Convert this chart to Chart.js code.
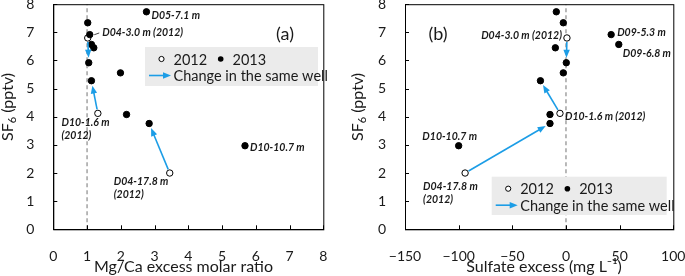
<!DOCTYPE html>
<html>
<head>
<meta charset="utf-8">
<script src="https://cdn.jsdelivr.net/npm/chart.js@4.4.1/dist/chart.umd.min.js"></script>
<style>
  html, body { margin: 0; padding: 0; background: #fff; }
  #wrap { position: relative; width: 685px; height: 276px; }
  canvas { position: absolute; top: 0; }
</style>
</head>
<body>
<div id="wrap">
  <canvas id="chartA" width="340" height="276" style="left:0"></canvas>
  <canvas id="chartB" width="345" height="276" style="left:340px"></canvas>
</div>
<script>
// SF6 (pptv) per well, 2013 survey and 2012 survey
const sf6_2013 = [7.73, 7.34, 6.92, 6.57, 6.45, 5.92, 5.56, 5.28, 4.08, 3.76, 2.97];
const mgca_2013 = [2.76, 1.02, 1.08, 1.13, 1.20, 1.05, 1.99, 1.13, 2.17, 2.84, 5.68];
const sulfate_2013 = [-9.0, -2.5, 42.1, 49.2, -9.9, 0.3, -2.5, -23.8, -14.9, -14.9, -100];

const sf6_2012 = [6.80, 4.12, 2.00];
const mgca_2012 = [1.02, 1.32, 3.45];
const sulfate_2012 = [0.9, -5.6, -94];

// same well resampled: 2012 index -> 2013 index
const arrowFrom = [0, 1, 2];
const arrowTo = [5, 7, 9];

const sf6Ticks = [0, 1, 2, 3, 4, 5, 6, 7, 8];
const mgcaTicks = [0, 1, 2, 3, 4, 5, 6, 7, 8];
const sulfateTicks = [-150, -100, -50, 0, 50, 100];

const legendLabels = ["2012", "2013", "Change in the same well"];

const FONT = "Lato, 'Open Sans', sans-serif";
const TEXT = "#1a1a1a";
const BLUE = "#1c9de6";

function drawArrow(ctx, x1, y1, x2, y2, cut1, cut2) {
  const dx = x2 - x1, dy = y2 - y1;
  const len = Math.hypot(dx, dy);
  const ux = dx / len, uy = dy / len;
  const sx = x1 + ux * cut1, sy = y1 + uy * cut1;
  const ex = x2 - ux * cut2, ey = y2 - uy * cut2;
  const head = 8, half = 3.2;
  ctx.save();
  ctx.strokeStyle = BLUE;
  ctx.fillStyle = BLUE;
  ctx.lineWidth = 1.6;
  ctx.beginPath();
  ctx.moveTo(sx, sy);
  ctx.lineTo(ex - ux * head * 0.8, ey - uy * head * 0.8);
  ctx.stroke();
  ctx.beginPath();
  ctx.moveTo(ex, ey);
  ctx.lineTo(ex - ux * head - uy * half, ey - uy * head + ux * half);
  ctx.lineTo(ex - ux * head + uy * half, ey - uy * head - ux * half);
  ctx.closePath();
  ctx.fill();
  ctx.restore();
}

// y title with a real subscript, drawn rotated
function drawYTitle(ctx, cx, cy) {
  const big = "16px " + FONT, small = "11px " + FONT;
  ctx.save();
  ctx.translate(cx, cy);
  ctx.rotate(-Math.PI / 2);
  ctx.fillStyle = TEXT;
  ctx.textBaseline = "middle";
  ctx.textAlign = "left";
  ctx.font = big;
  const w1 = ctx.measureText("SF").width;
  const w3 = ctx.measureText(" (pptv)").width;
  ctx.font = small;
  const w2 = ctx.measureText("6").width;
  let x0 = -(w1 + w2 + w3) / 2;
  ctx.font = big;
  ctx.fillText("SF", x0, 0);
  ctx.font = small;
  ctx.fillText("6", x0 + w1, 4);
  ctx.font = big;
  ctx.fillText(" (pptv)", x0 + w1 + w2, 0);
  ctx.restore();
}

// frame, inward ticks, arrows, well names, legend, titles, panel letter
const decorations = {
  id: "decorations",
  afterDatasetsDraw(chart, args, opts) {
    const { ctx, chartArea: { left, right, top, bottom }, scales: { x, y } } = chart;
    ctx.save();
    ctx.strokeStyle = "#000";
    ctx.lineWidth = 1;
    ctx.strokeRect(left + 0.5, top + 0.5, right - left, bottom - top);
    ctx.beginPath();
    opts.yTicks.forEach(v => {
      const py = Math.round(y.getPixelForValue(v)) + 0.5;
      ctx.moveTo(left, py); ctx.lineTo(left + 4, py);
    });
    opts.xTicks.forEach(v => {
      const px = Math.round(x.getPixelForValue(v)) + 0.5;
      ctx.moveTo(px, bottom); ctx.lineTo(px, bottom - 4);
    });
    ctx.stroke();

    // arrows 2012 -> 2013
    arrowFrom.forEach((a, k) => {
      const b = arrowTo[k];
      drawArrow(ctx,
        x.getPixelForValue(opts.x2012[a]), y.getPixelForValue(sf6_2012[a]),
        x.getPixelForValue(opts.x2013[b]), y.getPixelForValue(sf6_2013[b]), 4, 5);
    });

    // well names
    ctx.fillStyle = TEXT;
    ctx.font = "italic bold 10.5px " + FONT;
    ctx.textBaseline = "middle";
    opts.notes.forEach(n => {
      const xs = n.year === 2012 ? opts.x2012 : opts.x2013;
      const ys = n.year === 2012 ? sf6_2012 : sf6_2013;
      const px = x.getPixelForValue(xs[n.i]) + n.dx;
      const py = y.getPixelForValue(ys[n.i]) + n.dy;
      ctx.textAlign = n.align || "left";
      [].concat(n.text).forEach((t, j) => ctx.fillText(t, px, py + j * 12.5));
      if (n.leader) {
        ctx.strokeStyle = TEXT;
        ctx.lineWidth = 0.8;
        ctx.beginPath();
        ctx.moveTo(px - 8, py + 1.8);
        ctx.lineTo(px - 3, py);
        ctx.stroke();
      }
    });

    // legend box
    const L = opts.legend;
    ctx.fillStyle = "#ebebeb";
    ctx.fillRect(L.x, L.y, L.w, L.h);
    ctx.font = "14.5px " + FONT;
    ctx.textAlign = "left";
    ctx.fillStyle = TEXT;
    const r1 = L.y + 12, r2 = L.y + 28.5;
    ctx.beginPath();
    ctx.arc(L.x + 16.5, r1, 2.6, 0, Math.PI * 2);
    ctx.fillStyle = "#fff"; ctx.fill();
    ctx.strokeStyle = "#000"; ctx.lineWidth = 1; ctx.stroke();
    ctx.fillStyle = TEXT;
    ctx.fillText(legendLabels[0], L.x + 28.5, r1 + 1);
    ctx.beginPath();
    ctx.arc(L.x + 75.7, r1, 2.8, 0, Math.PI * 2);
    ctx.fillStyle = "#000"; ctx.fill();
    ctx.fillStyle = TEXT;
    ctx.fillText(legendLabels[1], L.x + 87.5, r1 + 1);
    drawArrow(ctx, L.x + 4, r2, L.x + 26, r2, 0, 0);
    ctx.fillStyle = TEXT;
    ctx.fillText(legendLabels[2], L.x + 28.5, r2 + 1);

    // axis titles
    ctx.font = "16px " + FONT;
    ctx.textAlign = "center";
    ctx.textBaseline = "middle";
    ctx.fillText(opts.xTitle.text, opts.xTitle.x, opts.xTitle.y);
    drawYTitle(ctx, opts.yTitle.x, opts.yTitle.y);

    // panel letter
    ctx.fillStyle = TEXT;
    ctx.font = "18px " + FONT;
    ctx.textAlign = "center";
    ctx.textBaseline = "alphabetic";
    ctx.fillText(opts.letter.text, opts.letter.x, opts.letter.y + 6);
    ctx.restore();
  }
};

const fixTicks = vals => scale => { scale.ticks = vals.map(v => ({ value: v })); };
const minus = v => String(v).replace("-", "\u2212");

function makeChart(id, cfg) {
  const xs13 = cfg.x2013, xs12 = cfg.x2012;
  return new Chart(document.getElementById(id), {
    type: "scatter",
    data: {
      datasets: [
        {
          label: "2013",
          data: xs13.map((v, i) => ({ x: v, y: sf6_2013[i] })),
          pointRadius: 3.2, pointHoverRadius: 3.2,
          backgroundColor: "#000", borderColor: "#000", borderWidth: 1
        },
        {
          label: "2012",
          data: xs12.map((v, i) => ({ x: v, y: sf6_2012[i] })),
          pointRadius: 3.2, pointHoverRadius: 3.2,
          backgroundColor: "#fff", borderColor: "#000", borderWidth: 1
        },
        {
          type: "line",
          label: "reference",
          data: [{ x: cfg.refX, y: sf6Ticks[0] }, { x: cfg.refX, y: sf6Ticks[sf6Ticks.length - 1] }],
          borderColor: "#8a8a8a", borderWidth: 1.2, borderDash: [4, 3],
          pointRadius: 0, fill: false
        }
      ]
    },
    options: {
      responsive: false,
      animation: false,
      devicePixelRatio: 1,
      layout: { padding: { top: 4, right: cfg.padRight, left: 0, bottom: 0 } },
      plugins: {
        legend: { display: false },
        tooltip: { enabled: false },
        decorations: {
          yTicks: sf6Ticks, xTicks: cfg.ticks,
          x2013: xs13, x2012: xs12,
          notes: cfg.notes, legend: cfg.legend, letter: cfg.letter,
          xTitle: cfg.xTitle, yTitle: cfg.yTitle
        }
      },
      scales: {
        x: {
          type: "linear",
          min: cfg.ticks[0], max: cfg.ticks[cfg.ticks.length - 1],
          afterBuildTicks: fixTicks(cfg.ticks),
          grid: { display: false },
          border: { display: true, color: "#000", width: 1 },
          ticks: { color: TEXT, font: { family: FONT, size: 14 }, padding: 11, maxRotation: 0, callback: minus },
          afterFit: s => { s.height = 46.7; s.paddingLeft = 0; s.paddingRight = 0; }
        },
        y: {
          type: "linear",
          min: 0, max: 8,
          afterBuildTicks: fixTicks(sf6Ticks),
          grid: { display: false },
          border: { display: true, color: "#000", width: 1 },
          ticks: { color: TEXT, font: { family: FONT, size: 14 }, padding: 11 },
          afterFit: s => { s.width = cfg.yWidth; s.paddingTop = 0; s.paddingBottom = 0; }
        }
      }
    },
    plugins: [decorations]
  });
}

makeChart("chartA", {
  x2013: mgca_2013, x2012: mgca_2012, ticks: mgcaTicks, refX: 1,
  xTitle: { text: "Mg/Ca excess molar ratio", x: 183.5, y: 267 },
  yTitle: { x: 8, y: 107 },
  yWidth: 53.3, padRight: 16.7,
  notes: [
    { text: "D05-7.1 m", year: 2013, i: 0, dx: 5, dy: 3.5 },
    { text: "D04-3.0 m (2012)", year: 2012, i: 0, dx: 14.5, dy: -5, leader: true },
    { text: ["D10-1.6 m", "(2012)"], year: 2012, i: 1, dx: -36.4, dy: 9.5 },
    { text: "D10-10.7 m", year: 2013, i: 10, dx: 5, dy: 2 },
    { text: ["D04-17.8 m", "(2012)"], year: 2012, i: 2, dx: -56, dy: 9 }
  ],
  legend: { x: 145, y: 47, w: 173, h: 39 },
  letter: { text: "(a)", x: 285, y: 34 }
});

makeChart("chartB", {
  x2013: sulfate_2013, x2012: sulfate_2012, ticks: sulfateTicks, refX: 0,
  xTitle: { text: "Sulfate excess (mg L\u207B\u00B9)", x: 204, y: 267 },
  yTitle: { x: 18, y: 107 },
  yWidth: 65, padRight: 11.7,
  notes: [
    { text: "D04-3.0 m (2012)", year: 2012, i: 0, dx: -5, dy: -2, align: "right" },
    { text: "D09-5.3 m", year: 2013, i: 2, dx: 6, dy: -1.7 },
    { text: "D09-6.8 m", year: 2013, i: 3, dx: 4, dy: 9 },
    { text: "D10-1.6 m (2012)", year: 2012, i: 1, dx: 5, dy: 3.5 },
    { text: "D10-10.7 m", year: 2013, i: 10, dx: -36.3, dy: -9.6 },
    { text: ["D04-17.8 m", "(2012)"], year: 2012, i: 2, dx: -42, dy: 13.7 }
  ],
  legend: { x: 151.7, y: 176.7, w: 175, h: 38.3 },
  letter: { text: "(b)", x: 98, y: 34 }
});
</script>
</body>
</html>
